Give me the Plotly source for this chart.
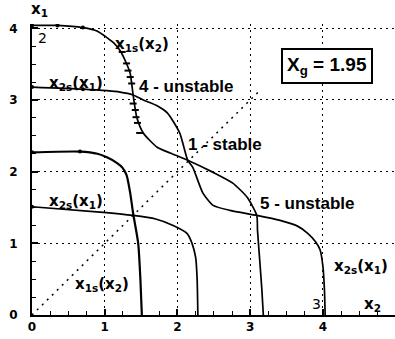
import plotly.graph_objects as go

# Large x1s(x2) curve (x2, x1)
p_big_x = [0.0, 0.35, 0.70, 0.90, 1.03, 1.13, 1.21, 1.29, 1.35, 1.39, 1.44, 1.53, 1.72, 1.90, 2.14, 2.49, 2.76, 2.96, 3.09, 3.10, 3.13, 3.16, 3.18]
p_big_y = [4.04, 4.04, 4.01, 3.96, 3.87, 3.79, 3.69, 3.53, 3.37, 3.07, 2.76, 2.54, 2.34, 2.26, 2.16, 1.99, 1.84, 1.64, 1.39, 1.18, 0.77, 0.35, 0.0]

# Large x2s(x1) curve
q_big_x = [0.0, 0.70, 1.21, 1.39, 1.53, 1.72, 1.86, 2.03, 2.14, 2.21, 2.35, 2.49, 2.72, 3.09, 3.41, 3.65, 3.79, 3.90, 3.96, 4.00, 4.02, 4.03]
q_big_y = [3.18, 3.15, 3.11, 3.07, 3.00, 2.92, 2.82, 2.54, 2.16, 2.06, 1.70, 1.53, 1.46, 1.39, 1.32, 1.24, 1.14, 1.02, 0.91, 0.67, 0.35, 0.0]

# Small x1s(x2) curve
p_small_x = [0.0, 0.66, 0.90, 1.03, 1.17, 1.24, 1.30, 1.35, 1.39, 1.46, 1.49, 1.51]
p_small_y = [2.27, 2.28, 2.25, 2.20, 2.12, 2.06, 1.95, 1.70, 1.42, 1.00, 0.50, 0.0]

# Small x2s(x1) curve
q_small_x = [0.0, 0.89, 1.39, 1.70, 1.94, 2.13, 2.20, 2.25, 2.27, 2.28]
q_small_y = [1.51, 1.44, 1.39, 1.34, 1.25, 1.14, 1.00, 0.80, 0.50, 0.0]

# Cross marks along the large x1s(x2) curve
mark_x = [1.24, 1.30, 1.32, 1.35, 1.37, 1.39, 1.42, 1.43, 1.45, 1.48]
mark_y = [3.67, 3.51, 3.41, 3.32, 3.23, 2.95, 2.86, 2.76, 2.68, 2.54]

# Dots along curves
dot_x = [0.0, 0.35, 0.70, 0.0, 0.66, 0.0, 0.0, 0.70]
dot_y = [4.04, 4.04, 4.01, 3.18, 2.28, 2.27, 1.51, 3.15]

# Diagonal x1 = x2
diag_x = [0.0, 3.15]
diag_y = [0.0, 3.15]

tick_vals = [0, 1, 2, 3, 4]
tick_text = ["0", "1", "2", "3", "4"]
xg_value = 1.95

fig = go.Figure()
fig.add_trace(go.Scatter(x=diag_x, y=diag_y, mode="lines",
                         line=dict(color="black", width=1.5, dash="2px,5px")))
line_style = dict(color="black", width=1.7, shape="spline", smoothing=0.6)
fig.add_trace(go.Scatter(x=p_big_x, y=p_big_y, mode="lines", line=line_style))
fig.add_trace(go.Scatter(x=q_big_x, y=q_big_y, mode="lines", line=line_style))
fig.add_trace(go.Scatter(x=p_small_x, y=p_small_y, mode="lines",
                         line=dict(color="black", width=2.2, shape="spline", smoothing=0.6)))
fig.add_trace(go.Scatter(x=q_small_x, y=q_small_y, mode="lines", line=line_style))
fig.add_trace(go.Scatter(x=mark_x, y=mark_y, mode="markers",
                         marker=dict(symbol="line-ew", size=5, line=dict(color="black", width=2))))
fig.add_trace(go.Scatter(x=dot_x, y=dot_y, mode="markers",
                         marker=dict(symbol="circle", size=4, color="black")))

bold = dict(family="Liberation Sans", size=17, color="black", weight="bold")
lab = dict(family="DejaVu Sans", size=15, color="black", weight="bold")
num = dict(family="DejaVu Sans", size=14, color="black")

ann = []
def add(text, x, y, font, xanchor="left", **kw):
    ann.append(dict(text=text, x=x, y=y, xref="x", yref="y", showarrow=False,
                    xanchor=xanchor, yanchor="middle", font=font, **kw))

add("x<sub>1s</sub>(x<sub>2</sub>)", 1.12, 3.78, lab)
add("x<sub>2s</sub>(x<sub>1</sub>)", 0.20, 3.23, lab)
add("4 - unstable", 1.45, 3.19, bold)
add("1 - stable", 2.12, 2.38, bold)
add("5 - unstable", 3.11, 1.55, bold)
add("x<sub>2s</sub>(x<sub>1</sub>)", 0.20, 1.59, lab)
add("x<sub>1s</sub>(x<sub>2</sub>)", 0.57, 0.43, lab)
add("x<sub>2s</sub>(x<sub>1</sub>)", 4.12, 0.67, lab)
add("2", 0.06, 3.87, num)
add("3", 3.82, 0.15, num)
add("x<sub>2</sub>", 4.54, 0.15, lab)
ann.append(dict(text="X<sub>g</sub> = %.2f" % xg_value, x=4.05, y=3.48, xref="x", yref="y",
                showarrow=False, xanchor="center", yanchor="middle",
                font=dict(family="Liberation Sans", size=19, color="black", weight="bold"),
                bordercolor="black", borderwidth=2, borderpad=4, bgcolor="white"))
ann.append(dict(text="x<sub>1</sub>", x=0.022, y=1.05, xref="paper", yref="paper",
                showarrow=False, xanchor="center", yanchor="middle", font=lab))

axis_common = dict(showline=True, linecolor="black", linewidth=2, mirror=False,
                   showgrid=True, gridcolor="black", gridwidth=1, griddash="2px,4px",
                   ticks="inside", ticklen=6, tickwidth=1.5, tickcolor="black",
                   tickvals=tick_vals, ticktext=tick_text, zeroline=False, automargin=False,
                   tickfont=dict(family="DejaVu Sans", size=12, color="black", weight="bold"),
                   minor=dict(ticks="inside", dtick=0.25, ticklen=4, tickwidth=1.2,
                              tickcolor="black", showgrid=False))

fig.update_layout(
    width=395, height=339,
    margin=dict(l=32, r=0, t=24, b=24),
    plot_bgcolor="white", paper_bgcolor="white",
    showlegend=False,
    annotations=ann,
    xaxis=dict(range=[0, 4.99], ticklabelstandoff=0, **axis_common),
    yaxis=dict(range=[0, 4.06], ticklabelstandoff=10, **axis_common),
)
fig.write_html("out.html", config={"displayModeBar": False},
               post_script="document.body.style.margin='0';")
